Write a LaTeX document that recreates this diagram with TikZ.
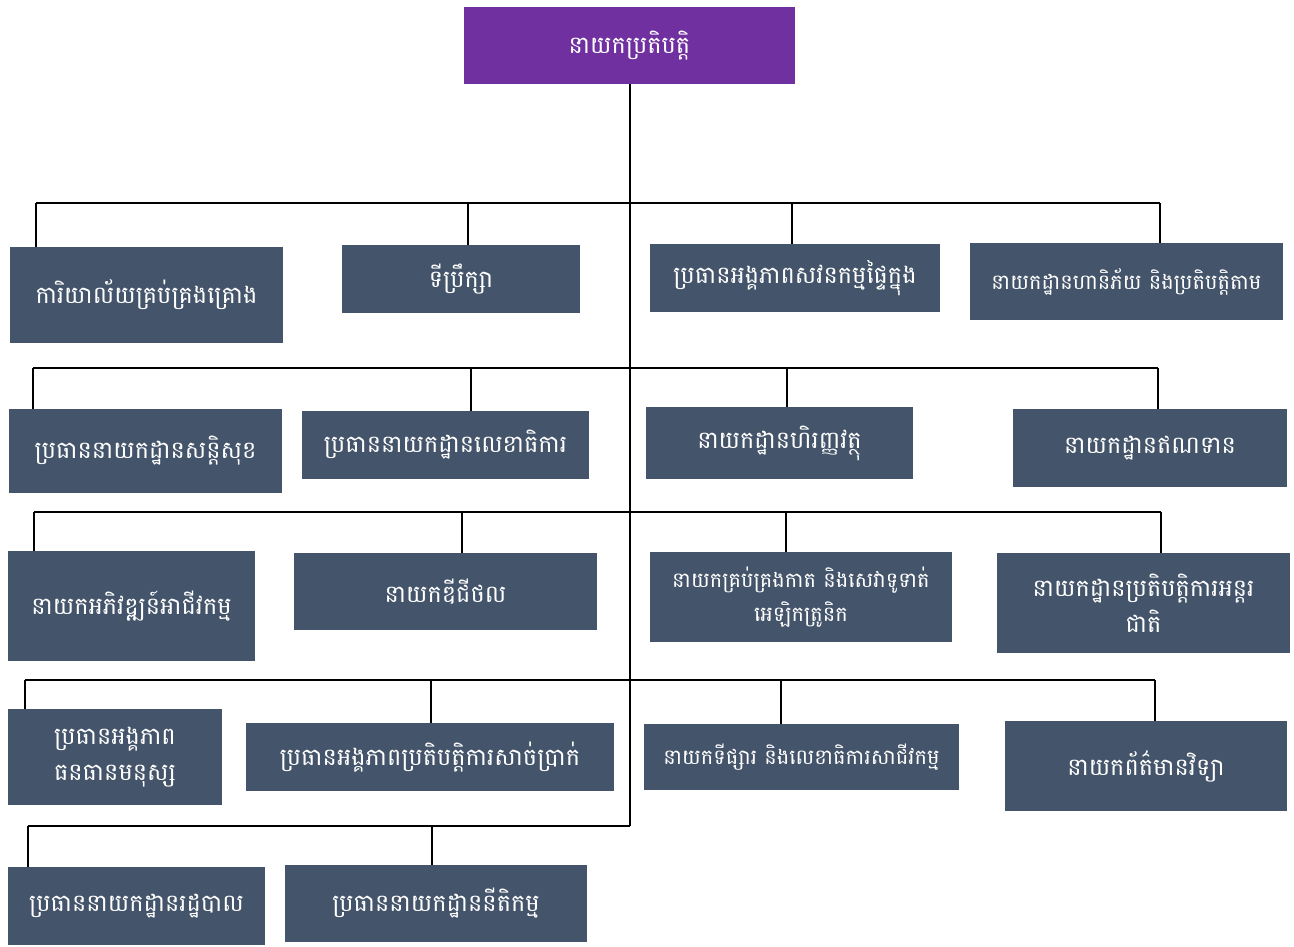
\documentclass[tikz,border=0pt]{standalone}
\usepackage{fontspec}
\newfontfamily\khmerfont[Script=Khmer]{Battambang}
\definecolor{slate}{HTML}{44546A}
\definecolor{violet}{HTML}{7030A0}
\tikzset{
  unit/.style={fill=slate, text=white, inner sep=0pt, align=center,
    font=\khmerfont\fontsize{24}{36}\selectfont},
  small/.style={font=\khmerfont\fontsize{21}{34}\selectfont},
  link/.style={line width=2pt, black}
}
\begin{document}
\begin{tikzpicture}[x=1pt,y=-1pt]
		    \useasboundingbox (0,0) rectangle (1294,946);
		    % head
		    \node[unit, fill=violet, minimum width=331, minimum height=77] (exec) at (629.5,45.5) {នាយកប្រតិបត្តិ};
		    % row 1
		    \node[unit, minimum width=273, minimum height=96] (office) at (146.5,295) {ការិយាល័យគ្រប់គ្រងគ្រោង};
		    \node[unit, minimum width=238, minimum height=68] (advisor) at (461,279) {ទីប្រឹក្សា};
		    \node[unit, minimum width=290, minimum height=68] (audit) at (795,278) {ប្រធានអង្គភាពសវនកម្មផ្ទៃក្នុង};
		    \node[unit, small, minimum width=313, minimum height=77] (risk) at (1126.5,281.5) {នាយកដ្ឋានហានិភ័យ និងប្រតិបត្តិតាម};
		    % row 2
		    \node[unit, minimum width=273, minimum height=84] (security) at (145.5,451) {ប្រធាននាយកដ្ឋានសន្តិសុខ};
		    \node[unit, minimum width=287, minimum height=68] (secretariat) at (445.5,445) {ប្រធាននាយកដ្ឋានលេខាធិការ};
		    \node[unit, minimum width=267, minimum height=72] (finance) at (779.5,443) {នាយកដ្ឋានហិរញ្ញវត្ថុ};
		    \node[unit, minimum width=274, minimum height=78] (credit) at (1150,448) {នាយកដ្ឋានឥណទាន};
		    % row 3
		    \node[unit, minimum width=247, minimum height=110] (bizdev) at (131.5,606) {នាយកអភិវឌ្ឍន៍អាជីវកម្ម};
		    \node[unit, minimum width=303, minimum height=77] (digital) at (445.5,591.5) {នាយកឌីជីថល};
		    \node[unit, small, minimum width=302, minimum height=90] (card) at (801,597) {នាយកគ្រប់គ្រងកាត និងសេវាទូទាត់\\អេឡិកត្រូនិក};
		    \node[unit, minimum width=293, minimum height=100] (intl) at (1143.5,603) {នាយកដ្ឋានប្រតិបត្តិការអន្តរ\\ជាតិ};
		    % row 4
		    \node[unit, minimum width=214, minimum height=96] (hr) at (115,757) {ប្រធានអង្គភាព\\ធនធានមនុស្ស};
		    \node[unit, minimum width=368, minimum height=68] (cash) at (430,757) {ប្រធានអង្គភាពប្រតិបត្តិការសាច់ប្រាក់};
		    \node[unit, small, minimum width=315, minimum height=66] (market) at (801.5,757) {នាយកទីផ្សារ និងលេខាធិការសាជីវកម្ម};
		    \node[unit, minimum width=282, minimum height=90] (it) at (1146,766) {នាយកព័ត៌មានវិទ្យា};
		    % row 5
		    \node[unit, minimum width=257, minimum height=78] (admin) at (136.5,906) {ប្រធាននាយកដ្ឋានរដ្ឋបាល};
		    \node[unit, minimum width=302, minimum height=77] (legal) at (436,903.5) {ប្រធាននាយកដ្ឋាននីតិកម្ម};
		    % buses
		    \coordinate (busA) at (36,203);   \coordinate (busAe) at (1160,203);
		    \coordinate (busB) at (33,368);   \coordinate (busBe) at (1158,368);
		    \coordinate (busC) at (34,512);   \coordinate (busCe) at (1161,512);
		    \coordinate (busD) at (25,680);   \coordinate (busDe) at (1155,680);
		    \coordinate (busE) at (28,826);   \coordinate (busEe) at (630,826);
		    \draw[link] (exec.south) -- (exec.south |- busE);
		    \draw[link] (busA) -- (busAe);
		    \draw[link] (busB) -- (busBe);
		    \draw[link] (busC) -- (busCe);
		    \draw[link] (busD) -- (busDe);
		    \draw[link] (busE) -- (busEe);
		    % drops
		    \draw[link] (busA) -- (busA |- office.north);
		    \draw[link] (468,203) coordinate (dA2) -- (dA2 |- advisor.north);
		    \draw[link] (792,203) coordinate (dA3) -- (dA3 |- audit.north);
		    \draw[link] (busAe) -- (busAe |- risk.north);
		    \draw[link] (busB) -- (busB |- security.north);
		    \draw[link] (471,368) coordinate (dB2) -- (dB2 |- secretariat.north);
		    \draw[link] (787,368) coordinate (dB3) -- (dB3 |- finance.north);
		    \draw[link] (busBe) -- (busBe |- credit.north);
		    \draw[link] (busC) -- (busC |- bizdev.north);
		    \draw[link] (462,512) coordinate (dC2) -- (dC2 |- digital.north);
		    \draw[link] (786,512) coordinate (dC3) -- (dC3 |- card.north);
		    \draw[link] (busCe) -- (busCe |- intl.north);
		    \draw[link] (busD) -- (busD |- hr.north);
		    \draw[link] (431,680) coordinate (dD2) -- (dD2 |- cash.north);
		    \draw[link] (781,680) coordinate (dD3) -- (dD3 |- market.north);
		    \draw[link] (busDe) -- (busDe |- it.north);
		    \draw[link] (busE) -- (busE |- admin.north);
		    \draw[link] (432,826) coordinate (dE2) -- (dE2 |- legal.north);
		\end{tikzpicture}
\end{document}
